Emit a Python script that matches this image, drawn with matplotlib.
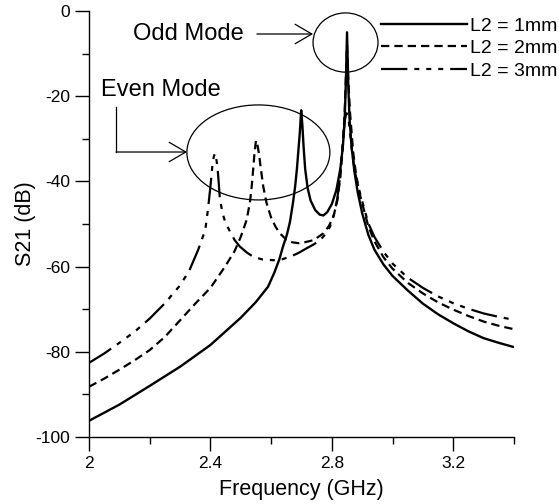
import matplotlib
matplotlib.use("Agg")
import matplotlib.pyplot as plt
from matplotlib.patches import Ellipse

plt.rcParams['font.family'] = ['Liberation Sans', 'DejaVu Sans']
plt.rcParams['axes.unicode_minus'] = False
plt.rcParams['lines.scale_dashes'] = False

# S21 curves (frequency in GHz, S21 in dB)
freq_1mm = [2.000, 2.100, 2.200, 2.300, 2.400, 2.500, 2.550, 2.590, 2.610, 2.627, 2.639,
            2.652, 2.662, 2.672, 2.679, 2.685, 2.689, 2.694, 2.697, 2.699, 2.703, 2.707,
            2.712, 2.720, 2.730, 2.745, 2.760, 2.772, 2.785, 2.800, 2.815, 2.828, 2.836,
            2.842, 2.846, 2.850, 2.854, 2.858, 2.865, 2.875, 2.885, 2.900, 2.920, 2.940,
            2.970, 3.000, 3.050, 3.100, 3.150, 3.200, 3.250, 3.300, 3.350, 3.400]
s21_1mm = [-96.2, -92.4, -88.0, -83.5, -78.4, -72.0, -68.3, -64.7, -61.5, -58.3, -55.3,
           -52.5, -49.5, -45.0, -41.2, -37.0, -33.4, -29.0, -25.6, -23.3, -27.0, -32.0,
           -37.0, -41.5, -44.5, -46.7, -47.8, -48.0, -47.2, -45.3, -42.0, -37.0, -32.0,
           -26.0, -17.0, -5.0, -17.0, -25.0, -32.0, -38.0, -42.5, -47.5, -52.5, -56.0,
           -59.5, -62.2, -65.6, -68.7, -71.2, -73.3, -75.2, -76.8, -77.9, -78.9]

freq_2mm = [2.000, 2.050, 2.100, 2.150, 2.200, 2.250, 2.300, 2.350, 2.400, 2.450, 2.480,
            2.500, 2.519, 2.530, 2.536, 2.541, 2.545, 2.550, 2.555, 2.560, 2.566, 2.574,
            2.585, 2.600, 2.615, 2.629, 2.650, 2.670, 2.690, 2.710, 2.739, 2.760, 2.772,
            2.790, 2.805, 2.818, 2.828, 2.836, 2.842, 2.846, 2.850, 2.854, 2.860, 2.870,
            2.880, 2.890, 2.905, 2.920, 2.940, 2.970, 3.000, 3.050, 3.100, 3.150, 3.200,
            3.250, 3.300, 3.350, 3.400]
s21_2mm = [-88.2, -86.3, -84.2, -82.0, -79.6, -76.5, -72.6, -68.7, -65.0, -59.8, -56.3,
           -53.0, -49.1, -45.0, -41.2, -37.0, -33.5, -30.4, -31.5, -33.5, -37.0, -41.2,
           -45.1, -48.5, -50.7, -52.2, -53.7, -54.3, -54.5, -54.3, -53.8, -52.8, -52.2,
           -50.5, -48.3, -44.5, -39.0, -32.0, -24.0, -16.0, -8.0, -16.0, -24.0, -33.0,
           -38.5, -42.5, -46.5, -50.5, -54.0, -57.8, -60.5, -63.8, -66.3, -68.4, -70.1,
           -71.6, -72.9, -73.9, -74.7]

freq_3mm = [2.000, 2.050, 2.100, 2.150, 2.200, 2.250, 2.300, 2.330, 2.360, 2.383, 2.392,
            2.400, 2.404, 2.407, 2.411, 2.415, 2.419, 2.423, 2.427, 2.431, 2.440, 2.450,
            2.464, 2.480, 2.497, 2.520, 2.541, 2.570, 2.607, 2.635, 2.662, 2.690, 2.717,
            2.740, 2.761, 2.780, 2.794, 2.808, 2.818, 2.826, 2.832, 2.838, 2.842, 2.846,
            2.849, 2.852, 2.856, 2.865, 2.875, 2.890, 2.905, 2.920, 2.940, 2.970, 3.000,
            3.050, 3.100, 3.150, 3.200, 3.250, 3.300, 3.350, 3.400]
s21_3mm = [-82.6, -80.4, -77.9, -75.3, -72.2, -68.6, -64.4, -61.0, -56.0, -51.4, -46.5,
           -41.2, -38.2, -35.8, -34.2, -33.4, -34.6, -36.5, -40.0, -44.0, -47.5, -49.8,
           -51.7, -53.8, -55.3, -56.7, -57.7, -58.3, -58.5, -58.3, -57.7, -56.8, -55.7,
           -54.8, -53.8, -52.3, -50.6, -47.5, -44.0, -39.5, -34.0, -29.0, -26.0, -24.5,
           -24.0, -24.5, -26.0, -32.0, -37.5, -42.0, -46.0, -49.8, -53.0, -56.5, -59.3,
           -62.6, -65.0, -67.0, -68.6, -69.9, -71.0, -71.8, -72.5]

labels = ['L2 = 1mm', 'L2 = 2mm', 'L2 = 3mm']
xticks = [2.0, 2.4, 2.8, 3.2]
xtick_labels = ['2', '2.4', '2.8', '3.2']
yticks = [0, -20, -40, -60, -80, -100]

fig = plt.figure(figsize=(5.59, 5.04), dpi=100)
ax = fig.add_axes([89 / 559, 1 - 437 / 504, (514 - 89) / 559, (437 - 11) / 504])

l1, = ax.plot(freq_1mm, s21_1mm, color='black', lw=1.7, ls='-', label=labels[0])
l2, = ax.plot(freq_2mm, s21_2mm, color='black', lw=1.6, ls=(0, (6, 3.6)), label=labels[1])
l3, = ax.plot(freq_3mm, s21_3mm, color='black', lw=1.6,
              ls=(0, (19, 5, 3.6, 5, 3.6, 5, 3.6, 5)), label=labels[2])

ax.set_xlim(2, 3.4)
ax.set_ylim(-100, 0)
ax.set_xticks(xticks)
ax.set_xticklabels(xtick_labels)
ax.set_xticks([2.2, 2.6, 3.0, 3.4], minor=True)
ax.set_yticks(yticks)
ax.set_yticks([-10, -30, -50, -70, -90], minor=True)
ax.tick_params(which='major', direction='out', length=10, width=1, labelsize=12.5, pad=3.5)
ax.tick_params(which='minor', direction='out', length=5, width=1)
for side in ['top', 'right']:
    ax.spines[side].set_visible(False)
for side in ['left', 'bottom']:
    ax.spines[side].set_linewidth(1)

ax.set_xlabel('Frequency (GHz)', fontsize=15.5, labelpad=6)
ax.set_ylabel('S21 (dB)', fontsize=15.5, labelpad=0)

# mode annotations
ax.add_patch(Ellipse((2.845, -7.4), 0.214, 13.9, fill=False, lw=0.9, color='black', clip_on=False))
ax.add_patch(Ellipse((2.558, -33.2), 0.471, 22.3, fill=False, lw=0.9, color='black', clip_on=False))

arrow = dict(arrowstyle='->,head_length=1.2,head_width=0.7', lw=0.9, color='black',
             shrinkA=0, shrinkB=0, mutation_scale=10)
ax.text(2.328, -5.4, 'Odd Mode', fontsize=17, ha='center', va='center')
ax.annotate('', xy=(2.738, -5.4), xytext=(2.553, -5.4), arrowprops=arrow)

ax.text(2.237, -18.5, 'Even Mode', fontsize=17, ha='center', va='center')
ax.plot([2.089, 2.089], [-22.5, -33.1], color='black', lw=0.9)
ax.annotate('', xy=(2.323, -33.1), xytext=(2.089, -33.1), arrowprops=arrow)

ax.legend(handles=[l1, l2, l3], loc='upper left', bbox_to_anchor=(381 / 559, 1 - 17 / 504),
          bbox_transform=fig.transFigure, frameon=False, fontsize=14, handlelength=4.4,
          handletextpad=0.2, labelspacing=0.25, borderpad=0, borderaxespad=0)

fig.savefig('out.png', dpi=100)
